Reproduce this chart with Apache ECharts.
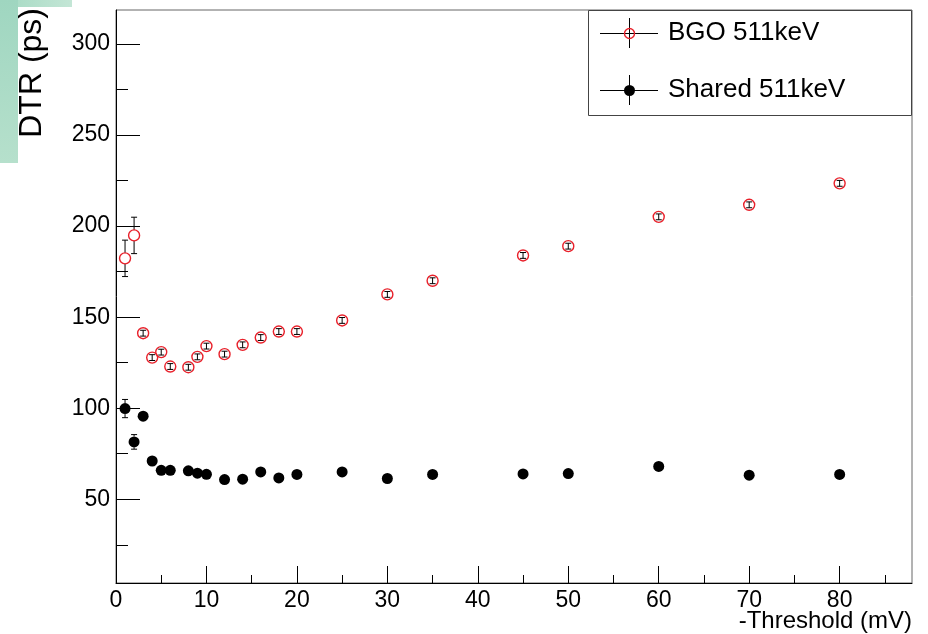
<!DOCTYPE html>
<html>
<head>
<meta charset="utf-8">
<title>DTR vs Threshold</title>
<script src="https://cdn.jsdelivr.net/npm/echarts@6/dist/echarts.min.js"></script>
<style>
  html, body { margin: 0; padding: 0; background: #fff; }
  #chart { width: 928px; height: 634px; }
</style>
</head>
<body>
<div id="chart"></div>
<script>
// 数据
const threshold = [1, 2, 3, 4, 5, 6, 8, 9, 10, 12, 14, 16, 18, 20, 25, 30, 35, 45, 50, 60, 70, 80]
const bgoDtr = [182.3, 194.9, 141.2, 127.8, 130.8, 122.9, 122.5, 128.2, 134.1, 129.7, 134.8, 138.8, 142.1, 142.1, 148.2, 162.5, 170.0, 183.9, 189.0, 205.1, 211.7, 223.5]
const bgoErr = [10, 10, 1.6, 1.6, 1.6, 1.6, 1.6, 1.6, 1.6, 1.6, 1.6, 1.6, 1.6, 1.6, 1.6, 1.6, 1.6, 1.6, 1.6, 1.6, 1.6, 1.6]
const sharedDtr = [99.8, 81.5, 95.6, 71.0, 65.9, 65.9, 65.6, 64.3, 63.7, 60.8, 61.0, 65.0, 61.7, 63.6, 65.0, 61.4, 63.6, 63.9, 64.1, 68.0, 63.2, 63.6]
const sharedErr = [5, 4, 1.5, 1.5, 1.5, 1.5, 1.5, 1.5, 1.5, 1.5, 1.5, 1.5, 1.5, 1.5, 1.5, 1.5, 1.5, 1.5, 1.5, 1.5, 1.5, 1.5]

// 刻度
const xMajor = [0, 10, 20, 30, 40, 50, 60, 70, 80]
const xMinor = [5, 15, 25, 35, 45, 55, 65, 75, 85]
const yMajor = [50, 100, 150, 200, 250, 300]
const yMinor = [25, 75, 125, 175, 225, 275]

const seriesNames = ['BGO 511keV', 'Shared 511keV']

const FONT = '"Liberation Sans", Arial, sans-serif'
const RED = '#e8202a'
const MARKER = 11

// 误差棒
const makeErrorData = (ys, errs) => threshold.map((x, i) => [x, ys[i] - errs[i], ys[i] + errs[i], ys[i]])

const renderErrorBar = (params, api) => {
  const x = api.value(0)
  const lo = api.coord([x, api.value(1)])
  const hi = api.coord([x, api.value(2)])
  const mid = api.coord([x, api.value(3)])
  const r = MARKER / 2
  const cap = 3
  const style = { stroke: '#000', lineWidth: 1 }
  const children = []
  // 误差比标记大时，跳过标记内部
  if (mid[1] - hi[1] > r + 1) {
    children.push({ type: 'line', shape: { x1: hi[0], y1: hi[1], x2: mid[0], y2: mid[1] - r }, style })
    children.push({ type: 'line', shape: { x1: lo[0], y1: mid[1] + r, x2: lo[0], y2: lo[1] }, style })
  } else {
    children.push({ type: 'line', shape: { x1: hi[0], y1: hi[1], x2: lo[0], y2: lo[1] }, style })
  }
  children.push({ type: 'line', shape: { x1: hi[0] - cap, y1: hi[1], x2: hi[0] + cap, y2: hi[1] }, style })
  children.push({ type: 'line', shape: { x1: lo[0] - cap, y1: lo[1], x2: lo[0] + cap, y2: lo[1] }, style })
  return { type: 'group', children }
}

// 图例条目
const legendEntry = (y, name, filled) => [
  { type: 'line', z: 11, shape: { x1: 600, y1: y + 0.5, x2: 658, y2: y + 0.5 }, style: { stroke: '#000', lineWidth: 1 } },
  { type: 'line', z: 11, shape: { x1: 629.5, y1: y - 15, x2: 629.5, y2: y + 15 }, style: { stroke: '#000', lineWidth: 1 } },
  {
    type: 'circle', z: 12,
    shape: { cx: 629.5, cy: y + 0.5, r: filled ? 5.5 : 5 },
    style: filled ? { fill: '#000' } : { fill: 'rgba(0,0,0,0)', stroke: RED, lineWidth: 1.4 }
  },
  {
    type: 'text', z: 12, x: 668, y: y,
    style: { text: name, font: '26px ' + FONT, fill: '#000', textVerticalAlign: 'middle' }
  }
]

const chart = echarts.init(document.getElementById('chart'), null, { renderer: 'canvas' })

const option = {
  animation: false,
  backgroundColor: '#fff',
  grid: {
    left: 116, right: 16, top: 10, bottom: 51,
    show: true, borderColor: '#666', borderWidth: 1, backgroundColor: '#fff'
  },
  xAxis: [
    {
      type: 'value', min: 0, max: 88,
      axisLine: { show: true, lineStyle: { color: '#000', width: 1 } },
      axisTick: { inside: true, length: 17, customValues: xMajor, lineStyle: { color: '#000' } },
      axisLabel: { customValues: xMajor, fontSize: 23, fontFamily: FONT, color: '#000', margin: 6 },
      splitLine: { show: false }
    },
    {
      type: 'value', min: 0, max: 88, position: 'bottom',
      axisLine: { show: false },
      axisTick: { inside: true, length: 8, customValues: xMinor, lineStyle: { color: '#000' } },
      axisLabel: { show: false },
      splitLine: { show: false }
    }
  ],
  yAxis: [
    {
      type: 'value', min: 4, max: 318.7,
      axisLine: { show: true, lineStyle: { color: '#000', width: 1 } },
      axisTick: { inside: true, length: 24, customValues: yMajor, lineStyle: { color: '#000' } },
      axisLabel: { customValues: yMajor, fontSize: 23, fontFamily: FONT, color: '#000', margin: 6 },
      splitLine: { show: false }
    },
    {
      type: 'value', min: 4, max: 318.7, position: 'left',
      axisLine: { show: false },
      axisTick: { inside: true, length: 12, customValues: yMinor, lineStyle: { color: '#000' } },
      axisLabel: { show: false },
      splitLine: { show: false }
    }
  ],
  series: [
    {
      name: seriesNames[0] + ' err',
      type: 'custom',
      renderItem: renderErrorBar,
      data: makeErrorData(bgoDtr, bgoErr),
      z: 3
    },
    {
      name: seriesNames[1] + ' err',
      type: 'custom',
      renderItem: renderErrorBar,
      data: makeErrorData(sharedDtr, sharedErr),
      z: 3
    },
    {
      name: seriesNames[0],
      type: 'scatter',
      symbol: 'circle',
      symbolSize: MARKER,
      itemStyle: { color: 'rgba(0,0,0,0)', borderColor: RED, borderWidth: 1.4, opacity: 1 },
      data: threshold.map((x, i) => [x, bgoDtr[i]]),
      z: 4
    },
    {
      name: seriesNames[1],
      type: 'scatter',
      symbol: 'circle',
      symbolSize: MARKER,
      itemStyle: { color: '#000', opacity: 1 },
      data: threshold.map((x, i) => [x, sharedDtr[i]]),
      z: 5
    }
  ],
  graphic: [
    // 左上角的绿色背景
    {
      type: 'rect', z: -1, silent: true,
      shape: { x: 0, y: 0, width: 72, height: 7 },
      style: { fill: new echarts.graphic.LinearGradient(0, 0, 1, 1, [{ offset: 0, color: '#a3d9c2' }, { offset: 1, color: '#c4e6d6' }]) }
    },
    {
      type: 'rect', z: -1, silent: true,
      shape: { x: 0, y: 0, width: 18, height: 163 },
      style: { fill: new echarts.graphic.LinearGradient(0, 0, 0, 1, [{ offset: 0, color: '#9fd6c0' }, { offset: 1, color: '#b6e0cc' }]) }
    },
    // 轴标题
    {
      type: 'text', x: 32, y: 8, rotation: Math.PI / 2,
      style: { text: 'DTR (ps)', font: '32px ' + FONT, fill: '#000', textAlign: 'right', textVerticalAlign: 'middle' }
    },
    {
      type: 'text', x: 912, y: 621,
      style: { text: '-Threshold (mV)', font: '24px ' + FONT, fill: '#000', textAlign: 'right', textVerticalAlign: 'middle' }
    },
    // 图例框
    {
      type: 'rect', z: 10,
      shape: { x: 588.5, y: 10.5, width: 323, height: 105 },
      style: { fill: '#fff', stroke: '#444', lineWidth: 1 }
    },
    ...legendEntry(33, seriesNames[0], false),
    ...legendEntry(90, seriesNames[1], true)
  ]
}

chart.setOption(option)
</script>
</body>
</html>
